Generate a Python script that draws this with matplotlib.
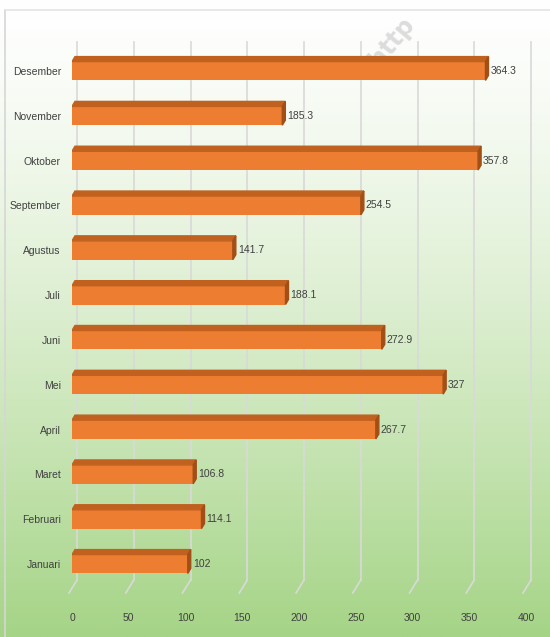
import numpy as np
import matplotlib.pyplot as plt
from matplotlib.patches import Polygon
from matplotlib import transforms

plt.rcParams['font.family'] = ['Liberation Sans', 'DejaVu Sans']

months = ['Januari', 'Februari', 'Maret', 'April', 'Mei', 'Juni', 'Juli',
          'Agustus', 'September', 'Oktober', 'November', 'Desember']
values = [102, 114.1, 106.8, 267.7, 327, 272.9, 188.1, 141.7, 254.5, 357.8, 185.3, 364.3]
value_labels = ['102', '114.1', '106.8', '267.7', '327', '272.9', '188.1', '141.7',
                '254.5', '357.8', '185.3', '364.3']
x_ticks = [0, 50, 100, 150, 200, 250, 300, 350, 400]

W, H = 550, 637
fig = plt.figure(figsize=(W / 100, H / 100), dpi=100)

# gradient background
bg = fig.add_axes([0, 0, 1, 1], zorder=-10)
top_c = np.array([255, 255, 255]) / 255
bot_c = np.array([165, 212, 134]) / 255
t = np.linspace(0, 1, 300)[:, None]
grad = top_c * (1 - t ** 1.3) + bot_c * t ** 1.3
bg.imshow(grad[:, None, :].repeat(2, axis=1), aspect='auto', extent=[0, W, H, 0])
bg.plot([5, 5], [10, H], color='#d6d6d6', lw=1.2)
bg.plot([5, W], [10, 10], color='#e4e4e4', lw=1.2)
bg.text(392, 42, 'http', rotation=50, fontsize=17, fontweight='bold', color='#dcdcdc',
        ha='center', va='center', family='DejaVu Sans')
bg.set_xlim(0, W)
bg.set_ylim(H, 0)
bg.axis('off')

ax = fig.add_axes([72 / W, (H - 580) / H, 454 / W, 538 / H])
ax.patch.set_alpha(0)
ax.set_xlim(0, 400)
ax.set_ylim(-0.357, 11.647)
for s in ax.spines.values():
    s.set_visible(False)

# back-wall gridlines with little diagonal foot
blend = transforms.blended_transform_factory(ax.transData, ax.transAxes)
grid_t = transforms.offset_copy(blend, fig=fig, x=5, y=0, units='dots')
foot_t = transforms.offset_copy(blend, fig=fig, x=-3, y=-13, units='dots')
for xv in x_ticks:
    ax.plot([xv, xv], [0, 1], transform=grid_t, color='#d9d9d9', lw=1.2, zorder=0,
            clip_on=False)
    p0 = grid_t.transform((xv, 0))
    p1 = foot_t.transform((xv, 0))
    ax.plot([p0[0], p1[0]], [p0[1], p1[1]], transform=None, color='#d9d9d9', lw=1.2,
            zorder=0, clip_on=False)

ypos = np.arange(len(months))
bh = 0.42
dx = 3 / 1.135
dy = 5 / 44.82
ax.barh(ypos, values, height=bh, color='#ed7d31', zorder=3)
for y, v, lab in zip(ypos, values, value_labels):
    top = y + bh / 2
    ax.add_patch(Polygon([(0, top), (v, top), (v + dx, top + dy), (dx, top + dy)],
                         closed=True, color='#c0611f', zorder=3))
    ax.add_patch(Polygon([(v, top), (v + dx, top + dy), (v + dx, y - bh / 2 + dy),
                          (v, y - bh / 2)], closed=True, color='#a24f17', zorder=3))
    ax.annotate(lab, (v + dx, y), xytext=(2, 0), textcoords='offset pixels',
                ha='left', va='center', fontsize=7.5, color='#404040')

ax.set_yticks(ypos)
ax.set_yticklabels(months, fontsize=7.5, color='#404040')
ax.set_xticks(x_ticks)
ax.set_xticklabels([str(x) for x in x_ticks], fontsize=7.5, color='#404040')
ax.tick_params(axis='y', length=0, pad=8)
ax.tick_params(axis='x', length=0, pad=24)

fig.savefig('out.png', dpi=100)
